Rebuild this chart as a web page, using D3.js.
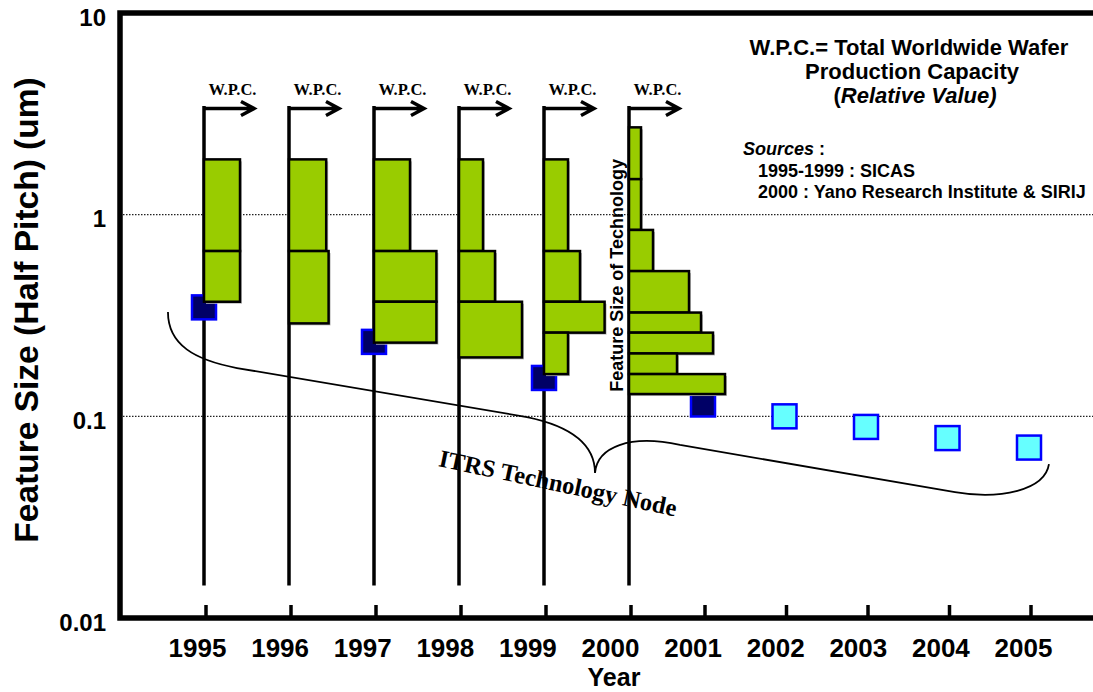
<!DOCTYPE html>
<html>
<head>
<meta charset="utf-8">
<script src="https://cdn.jsdelivr.net/npm/d3@7/dist/d3.min.js"></script>
<style>
  body { margin: 0; background: #fff; }
  text { font-family: "Liberation Sans", Arial, sans-serif; font-weight: bold; fill: #000; }
  .serif { font-family: "Liberation Serif", "Times New Roman", serif; }
</style>
</head>
<body>
<div id="chart"></div>
<script>
// Feature size vs year, with W.P.C. histograms per year

// Years and axis ticks
const years = [1995, 1996, 1997, 1998, 1999, 2000, 2001, 2002, 2003, 2004, 2005];
const yTicks = [10, 1, 0.1, 0.01];
const gridValues = [1, 0.1];

// Technology node (actual) and roadmap points, feature size in um
const nodeYears = [1995, 1997, 1999, 2001];
const nodeSizes = [0.347, 0.234, 0.155, 0.1145];
const roadmapYears = [2002, 2003, 2004, 2005];
const roadmapSizes = [0.1, 0.0886, 0.078, 0.07];

// W.P.C. histograms: [upper size, lower size, relative W.P.C.]
const wpcYears = [1995, 1996, 1997, 1998, 1999, 2000];
const wpc1995 = [[1.88, 0.66, 3], [0.66, 0.37, 3]];
const wpc1996 = [[1.88, 0.66, 3.1], [0.66, 0.289, 3.3]];
const wpc1997 = [[1.88, 0.66, 3], [0.66, 0.37, 5.2], [0.37, 0.232, 5.2]];
const wpc1998 = [[1.88, 0.66, 2], [0.66, 0.37, 3], [0.37, 0.196, 5.25]];
const wpc1999 = [[1.88, 0.66, 2], [0.66, 0.37, 3], [0.37, 0.26, 5.05], [0.26, 0.162, 2]];
const wpc2000 = [[2.71, 1.5, 1], [1.5, 0.84, 1], [0.84, 0.525, 2], [0.525, 0.327, 5],
                 [0.327, 0.26, 6], [0.26, 0.205, 7], [0.205, 0.162, 4], [0.162, 0.129, 8]];
const wpcBins = [wpc1995, wpc1996, wpc1997, wpc1998, wpc1999, wpc2000];

// Brace under the node points, [year, size]
const braceLeft = [[1994.576, 0.329], [1994.576, 0.2258], [1994.894, 0.1902], [1995.388, 0.1736]];
const braceMid = [[1998.8, 0.0992], [1999.424, 0.0875], [1999.6, 0.0681], [1999.6, 0.0524]];
const braceRise = [[1999.624, 0.0705], [2000.014, 0.0818], [2000.689, 0.0721]];
const braceRight = [[2004.092, 0.0421], [2004.644, 0.0385], [2005.196, 0.0431], [2005.245, 0.058]];

// Chart size
const W = 1093, H = 692;
const frame = {left: 120, top: 13, bottom: 618};

const svg = d3.select("#chart")
  .append("svg")
    .attr("width", W)
    .attr("height", H);

// Scales
const x = d3.scaleLinear()
  .domain([1995, 2000, 2001, 2005])
  .range([204, 629, 703, 1029]);
const xLabel = d3.scaleLinear()
  .domain([1995, 2005])
  .range([197, 1023]);
const y = d3.scaleLog()
  .domain([0.01, 10])
  .range([frame.bottom, frame.top]);
const w = d3.scaleLinear()
  .domain([0, 1])
  .range([0, 12]);

// Dotted grid lines
svg.selectAll(".grid")
  .data(gridValues)
  .join("line")
    .attr("class", "grid")
    .attr("x1", frame.left)
    .attr("x2", W)
    .attr("y1", d => y(d))
    .attr("y2", d => y(d))
    .attr("stroke", "#222")
    .attr("stroke-width", 1.2)
    .attr("stroke-dasharray", "1.5,1.5");

// W.P.C. axes (vertical line + arrow) for each year
const wpcTop = y(3.4), wpcBottom = y(0.0145);
const wpcG = svg.selectAll(".wpc")
  .data(wpcYears)
  .join("g")
    .attr("class", "wpc");

wpcG.append("line")
  .attr("x1", d => x(d))
  .attr("x2", d => x(d))
  .attr("y1", wpcTop - 1.5)
  .attr("y2", wpcBottom)
  .attr("stroke", "#000")
  .attr("stroke-width", 3.5);

wpcG.append("path")
  .attr("d", d => {
    const x0 = x(d), yT = wpcTop + 1;
    return `M${x0},${yT}H${x0 + 50}M${x0 + 37},${yT - 7}L${x0 + 50},${yT}L${x0 + 37},${yT + 7}`;
  })
  .attr("fill", "none")
  .attr("stroke", "#000")
  .attr("stroke-width", 3.5);

wpcG.append("text")
  .attr("class", "serif")
  .attr("x", d => x(d) + 28.5)
  .attr("y", wpcTop - 12)
  .attr("text-anchor", "middle")
  .style("font-size", "16.5px")
  .text("W.P.C.");

// Brace
const pt = d => [x(d[0]), y(d[1])];
const brace = d3.path();
{
  const [p0, c1, c2, p1] = braceLeft.map(pt);
  const [p2, c3, c4, p3] = braceMid.map(pt);
  const [c5, c6, p4] = braceRise.map(pt);
  const [p5, c7, c8, p6] = braceRight.map(pt);
  brace.moveTo(...p0);
  brace.bezierCurveTo(...c1, ...c2, ...p1);
  brace.lineTo(...p2);
  brace.bezierCurveTo(...c3, ...c4, ...p3);
  brace.bezierCurveTo(...c5, ...c6, ...p4);
  brace.lineTo(...p5);
  brace.bezierCurveTo(...c7, ...c8, ...p6);
}
svg.append("path")
  .attr("d", brace.toString())
  .attr("fill", "none")
  .attr("stroke", "#000")
  .attr("stroke-width", 1.8);

// Node squares
const sq = 24;
const nodes = nodeYears.map((yr, i) => ({year: yr, size: nodeSizes[i], fill: "#000066"}))
  .concat(roadmapYears.map((yr, i) => ({year: yr, size: roadmapSizes[i], fill: "#66ffff"})));
svg.selectAll(".node")
  .data(nodes)
  .join("rect")
    .attr("class", "node")
    .attr("x", d => x(d.year) - sq / 2)
    .attr("y", d => y(d.size) - sq / 2)
    .attr("width", sq)
    .attr("height", sq)
    .attr("fill", d => d.fill)
    .attr("stroke", "#0000ff")
    .attr("stroke-width", 2.5);

// Histogram bars
const bars = wpcYears.flatMap((yr, i) =>
  wpcBins[i].map(b => ({year: yr, upper: b[0], lower: b[1], wpc: b[2]})));

svg.selectAll(".shadow")
  .data(bars)
  .join("rect")
    .attr("class", "shadow")
    .attr("x", d => x(d.year) + 2)
    .attr("y", d => y(d.upper) + 2)
    .attr("width", d => w(d.wpc))
    .attr("height", d => y(d.lower) - y(d.upper))
    .attr("fill", "#bbb");

svg.selectAll(".bar")
  .data(bars)
  .join("rect")
    .attr("class", "bar")
    .attr("x", d => x(d.year))
    .attr("y", d => y(d.upper))
    .attr("width", d => w(d.wpc))
    .attr("height", d => y(d.lower) - y(d.upper))
    .attr("fill", "#99cc00")
    .attr("stroke", "#000")
    .attr("stroke-width", 2.5);

// Vertical label beside 2000 histogram
svg.append("text")
  .attr("transform", `translate(${x(2000) - 6},${y(0.5)})rotate(-90)`)
  .attr("text-anchor", "middle")
  .style("font-size", "18px")
  .text("Feature Size of Technology");

// ITRS label along the brace
svg.append("text")
  .attr("class", "serif")
  .attr("transform", `translate(${x(1997.75)},${y(0.0567)})rotate(12)`)
  .style("font-size", "24.5px")
  .text("ITRS Technology Node");

// Note block
const note = svg.append("g").attr("text-anchor", "middle").style("font-size", "22px");
note.append("text").attr("x", 909).attr("y", 55).text("W.P.C.= Total Worldwide Wafer");
note.append("text").attr("x", 912).attr("y", 79).text("Production Capacity");
const rel = note.append("text").attr("x", 915).attr("y", 103);
rel.append("tspan").text("(");
rel.append("tspan").style("font-style", "italic").text("Relative Value)");

const src = svg.append("g").style("font-size", "18px");
const s0 = src.append("text").attr("x", 743).attr("y", 155);
s0.append("tspan").style("font-style", "italic").text("Sources");
s0.append("tspan").text(" :");
src.append("text").attr("x", 758).attr("y", 177).text("1995-1999 : SICAS");
src.append("text").attr("x", 758).attr("y", 198).text("2000 : Yano Research Institute & SIRIJ");

// Y axis labels
const yAxis = svg.append("g")
  .attr("transform", `translate(${frame.left},0)`)
  .call(d3.axisLeft(y).tickValues(yTicks).tickFormat(d3.format("~g")).tickSize(0).tickPadding(14));
yAxis.select(".domain").remove();
yAxis.selectAll("text")
  .attr("dy", "0.5em")
  .style("font-size", "24px")
  .style("font-family", "'Liberation Sans', Arial, sans-serif")
  .style("font-weight", "bold")
  .attr("fill", "#000");

// X axis labels
const xAxis = svg.append("g")
  .attr("transform", `translate(0,${frame.bottom})`)
  .call(d3.axisBottom(xLabel).tickValues(years).tickFormat(d3.format("d")).tickSize(0));
xAxis.select(".domain").remove();
xAxis.selectAll("text")
  .attr("y", 39)
  .attr("dy", 0)
  .style("font-size", "26px")
  .style("font-family", "'Liberation Sans', Arial, sans-serif")
  .style("font-weight", "bold")
  .attr("fill", "#000");

// Tick marks inside the bottom frame
svg.selectAll(".tick-mark")
  .data(years)
  .join("line")
    .attr("class", "tick-mark")
    .attr("x1", d => x(d) + 2)
    .attr("x2", d => x(d) + 2)
    .attr("y1", frame.bottom - 13)
    .attr("y2", frame.bottom)
    .attr("stroke", "#000")
    .attr("stroke-width", 3.5);

// Frame
svg.append("path")
  .attr("d", `M${W},${frame.top}H${frame.left}V${frame.bottom}H${W}`)
  .attr("fill", "none")
  .attr("stroke", "#000")
  .attr("stroke-width", 5.5);

// Axis titles
svg.append("text")
  .attr("transform", `translate(38,310)rotate(-90)`)
  .attr("text-anchor", "middle")
  .style("font-size", "33.5px")
  .text("Feature Size (Half Pitch) (um)");

svg.append("text")
  .attr("x", 614)
  .attr("y", 686)
  .attr("text-anchor", "middle")
  .style("font-size", "25px")
  .text("Year");
</script>
</body>
</html>
